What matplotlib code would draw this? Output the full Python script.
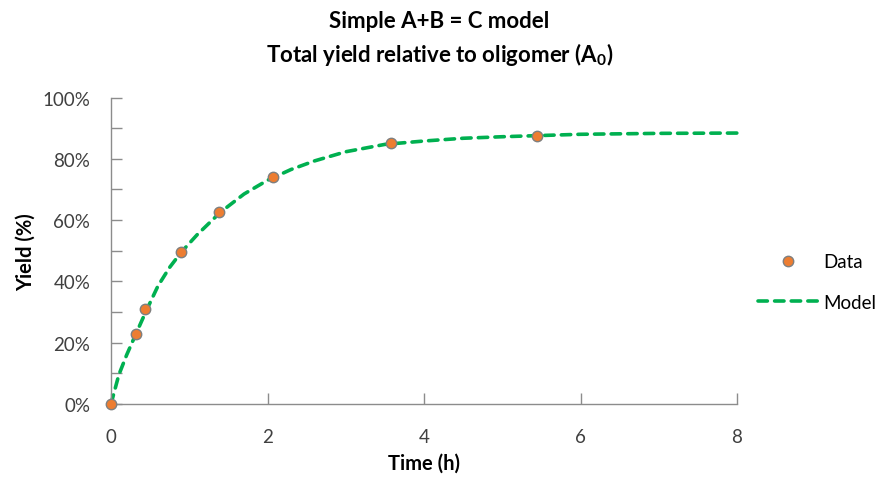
import matplotlib
matplotlib.use("Agg")
import matplotlib.pyplot as plt
from matplotlib.ticker import MultipleLocator, FuncFormatter

# Data
data_t = [0.0, 0.32, 0.44, 0.89, 1.38, 2.07, 3.58, 5.44]
data_y = [0.0, 22.7, 31.0, 49.6, 62.6, 74.1, 85.2, 87.3]

model_t = [0.0, 0.1, 0.2, 0.3, 0.45, 0.6, 0.75, 0.9, 1.1, 1.4, 1.7, 2.0,
           2.3, 2.6, 3.0, 3.5, 4.0, 4.5, 5.0, 5.5, 6.0, 7.0, 8.0]
model_y = [0.0, 9.5, 16.0, 21.8, 30.4, 38.5, 44.6, 49.6, 55.2, 62.6, 68.5, 73.0,
           76.5, 79.3, 82.3, 84.7, 85.8, 86.7, 87.2, 87.6, 88.0, 88.3, 88.4]

x_ticks = [0, 2, 4, 6, 8]
y_ticks = [0, 20, 40, 60, 80, 100]

title_lines = ["Simple A+B = C model", r"Total yield relative to oligomer (A$_\mathregular{0}$)"]

plt.rcParams['font.family'] = ['Lato', 'DejaVu Sans']
plt.rcParams['mathtext.fontset'] = 'custom'
plt.rcParams['mathtext.rm'] = 'Lato:bold'
plt.rcParams['mathtext.default'] = 'regular'

fig = plt.figure(figsize=(8.88, 4.81), dpi=100)
ax = fig.add_axes([111/888, 76/481, 626/888, 306.5/481])

axis_col = '#8c8c8c'
text_col = '#404040'

ln_model, = ax.plot(model_t, model_y, color='#00B050', lw=2.6, linestyle=(0, (2.6, 2.0)),
                    dash_capstyle='round', label='Model', zorder=2, clip_on=False)
ln_data, = ax.plot(data_t, data_y, linestyle='none', marker='o', markersize=7.5,
                   markerfacecolor='#ED7D31', markeredgecolor='#7f7f7f', markeredgewidth=1.0,
                   label='Data', zorder=3, clip_on=False)

ax.set_xlim(0, 8)
ax.set_ylim(0, 100)
ax.set_xticks(x_ticks)
ax.set_yticks(y_ticks)
ax.yaxis.set_minor_locator(MultipleLocator(10))
ax.yaxis.set_major_formatter(FuncFormatter(lambda v, p: f"{int(v)}%"))

for s in ['top', 'right']:
    ax.spines[s].set_visible(False)
for s in ['left', 'bottom']:
    ax.spines[s].set_color(axis_col)
    ax.spines[s].set_linewidth(1.0)

ax.tick_params(axis='both', which='both', direction='in', color=axis_col, width=1.0,
               labelsize=13.5, labelcolor=text_col)
ax.tick_params(axis='both', which='major', length=8)
ax.tick_params(axis='y', which='minor', length=8)
ax.tick_params(axis='x', pad=17)
ax.tick_params(axis='y', pad=15)

ax.set_xlabel("Time (h)", fontsize=14.5, fontweight='bold', color='#000000', labelpad=6)
ax.set_ylabel("Yield (%)", fontsize=14.5, fontweight='bold', color='#000000', labelpad=5)

fig.text(0.495, 1 - 22/481, title_lines[0], ha='center', va='center', fontsize=16, fontweight='bold')
fig.text(0.495, 1 - 55/481, title_lines[1], ha='center', va='center', fontsize=16, fontweight='bold')

leg = fig.legend(handles=[ln_data, ln_model], labels=['Data', 'Model'],
                 loc='center left', bbox_to_anchor=(741/888, 1 - 283/481),
                 frameon=False, fontsize=13.5, handlelength=3.2, handletextpad=0.3,
                 labelspacing=1.25, labelcolor='#000000')

fig.savefig("out.png", dpi=100)
